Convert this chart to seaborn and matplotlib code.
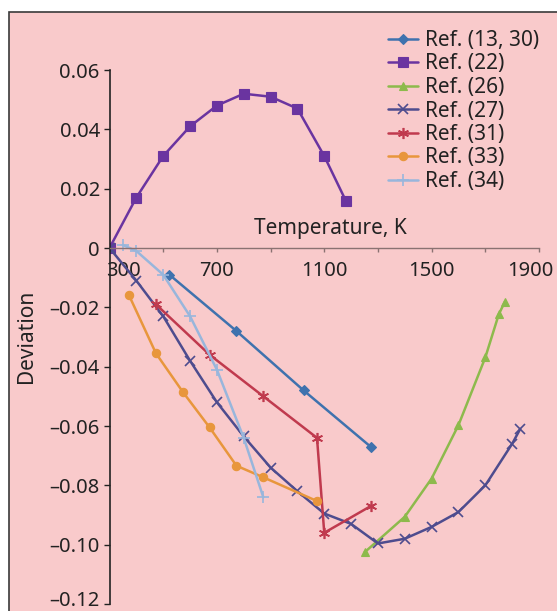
import numpy as np
import pandas as pd
import matplotlib
matplotlib.use('Agg')
import matplotlib.pyplot as plt
from matplotlib.patches import Rectangle
from matplotlib.transforms import ScaledTranslation
import seaborn as sns

# Series (temperature in K, deviation)
ref_13_30_t = [523, 773, 1023, 1273]
ref_13_30_v = [-0.009, -0.028, -0.048, -0.067]

ref_22_t = [300, 400, 500, 600, 700, 800, 900, 1000, 1100, 1180]
ref_22_v = [0.0, 0.017, 0.031, 0.041, 0.048, 0.052, 0.051, 0.047, 0.031, 0.016]

ref_26_t = [1250, 1400, 1500, 1600, 1700, 1750, 1773]
ref_26_v = [-0.1026, -0.0906, -0.0777, -0.0597, -0.0369, -0.0224, -0.0181]

ref_27_t = [300, 400, 500, 600, 700, 800, 900, 1000, 1100, 1200, 1300, 1400, 1500, 1600, 1700, 1800, 1830]
ref_27_v = [0.0, -0.011, -0.023, -0.038, -0.052, -0.0635, -0.074, -0.082, -0.0895, -0.093,
            -0.0996, -0.098, -0.094, -0.089, -0.080, -0.066, -0.061]

ref_31_t = [473, 673, 873, 1073, 1100, 1273]
ref_31_v = [-0.019, -0.036, -0.050, -0.064, -0.096, -0.087]

ref_33_t = [373, 473, 573, 673, 773, 873, 1073]
ref_33_v = [-0.016, -0.0355, -0.0485, -0.0605, -0.0734, -0.0773, -0.0853]

ref_34_t = [350, 400, 500, 600, 700, 800, 873]
ref_34_v = [0.001, -0.001, -0.009, -0.023, -0.041, -0.064, -0.084]

series_names = ['Ref. (13, 30)', 'Ref. (22)', 'Ref. (26)', 'Ref. (27)',
                'Ref. (31)', 'Ref. (33)', 'Ref. (34)']
series_data = [(ref_13_30_t, ref_13_30_v), (ref_22_t, ref_22_v), (ref_26_t, ref_26_v),
               (ref_27_t, ref_27_v), (ref_31_t, ref_31_v), (ref_33_t, ref_33_v),
               (ref_34_t, ref_34_v)]

x_ticks = [300, 700, 1100, 1500, 1900]
x_minor = [500, 900, 1300, 1700]
y_ticks = [0.06, 0.04, 0.02, 0, -0.02, -0.04, -0.06, -0.08, -0.10, -0.12]
y_labels = ['0.06', '0.04', '0.02', '0', '\u20130.02', '\u20130.04', '\u20130.06',
            '\u20130.08', '\u20130.10', '\u20130.12']

colors = ['#3F72AE', '#6A34A0', '#8DBA4C', '#4E4C8E', '#C03A4E', '#E8963C', '#98B6DC']
markers = ['D', 's', '^', 'x', (6, 2, 0), 'o', '+']
msizes = [5, 7, 6, 7, 8, 6, 8]

sns.set_theme(style='white')
plt.rcParams['font.family'] = ['Noto Sans', 'DejaVu Sans']

txt = '#222222'
fs = 14.5
bg = '#F9CACB'
fig = plt.figure(figsize=(5.57, 6.11), dpi=100, facecolor='white')
# pink panel with dark top/left border
fig.patches.append(Rectangle((9 / 557, -0.05), 1.2, 1 - 12 / 611 + 0.05,
                             transform=fig.transFigure, facecolor=bg,
                             edgecolor='#3a3a3a', linewidth=1.2, zorder=-10))

ax = fig.add_axes([109.5 / 557, 7 / 611, (539 - 109.5) / 557, (604 - 70) / 611])
ax.set_facecolor('none')

for name, (t, v), c, m, ms in zip(series_names, series_data, colors, markers, msizes):
    df = pd.DataFrame({'T': t, 'dev': v})
    thin = not isinstance(m, str) or m in 'x+'
    sns.lineplot(data=df, x='T', y='dev', ax=ax, color=c, marker=m, markersize=ms,
                 markeredgecolor=c, markeredgewidth=1.2 if thin else 0.8,
                 linewidth=1.8, sort=False, label=name)

ax.set_xlim(300, 1900)
ax.set_ylim(-0.12, 0.06)

for s in ['top', 'right']:
    ax.spines[s].set_visible(False)
ax.spines['bottom'].set_position(('data', 0))
ax.spines['bottom'].set_color('#8a7272')
ax.spines['bottom'].set_linewidth(1.0)
ax.spines['left'].set_color(txt)
ax.spines['left'].set_linewidth(1.2)

ax.set_yticks(y_ticks)
ax.set_yticklabels(y_labels, fontsize=fs, color=txt)
ax.set_xticks(x_ticks)
ax.set_xticklabels([str(x) for x in x_ticks], fontsize=fs, color=txt)
ax.set_xticks(x_minor, minor=True)
ax.tick_params(axis='y', which='major', direction='out', length=4, width=1, color=txt, pad=3, left=True)
ax.tick_params(axis='x', which='both', direction='out', length=3, width=1, color='#8a7272', pad=6, bottom=True)
lbls = ax.get_xticklabels()
lbls[0].set_transform(lbls[0].get_transform() + ScaledTranslation(0.135, 0, fig.dpi_scale_trans))
lbls[-1].set_transform(lbls[-1].get_transform() + ScaledTranslation(-0.09, 0, fig.dpi_scale_trans))
ylbls = ax.get_yticklabels()
ylbls[-1].set_transform(ylbls[-1].get_transform() + ScaledTranslation(0, 0.05, fig.dpi_scale_trans))

ax.set_xlabel('')
ax.set_ylabel('')
fig.text(330 / 557, 1 - 228 / 611, 'Temperature, K', ha='center', va='center',
         fontsize=15, color=txt)
fig.text(27 / 557, 1 - 336 / 611, 'Deviation', ha='center', va='center',
         rotation=90, fontsize=15, color=txt)

ax.legend(loc='upper left', bbox_to_anchor=(388 / 557, 1 - 30 / 611),
          bbox_transform=fig.transFigure, frameon=False, fontsize=15,
          handlelength=1.45, handletextpad=0.33, labelspacing=0.12,
          borderpad=0, borderaxespad=0, numpoints=1, labelcolor=txt)

fig.savefig('out.png', dpi=100, facecolor='white')
